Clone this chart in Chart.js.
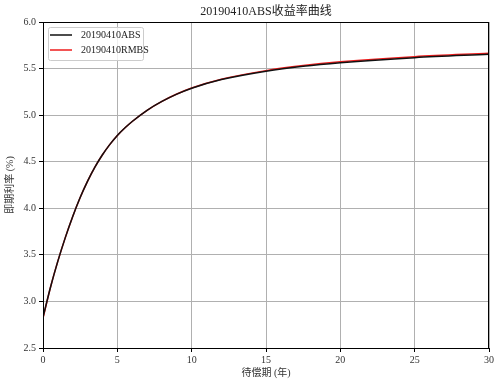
<!DOCTYPE html>
<html>
<head>
<meta charset="utf-8">
<script src="https://cdn.jsdelivr.net/npm/chart.js@4/dist/chart.umd.min.js"></script>
<style>
    body { margin: 0; background: #fff; }
    canvas { display: block; }
</style>
</head>
<body>
<canvas id="curveChart" width="501" height="386"></canvas>
<script>
// maturities (years) and spot rates (%)
const maturities = [0, 0.5, 1, 1.5, 2, 2.5, 3, 3.5, 4, 4.5, 5, 5.5, 6, 7, 8, 9, 10, 12, 15, 17.5, 20, 25, 30];
const absRates  = [2.83, 3.15, 3.433, 3.685, 3.912, 4.115, 4.292, 4.445, 4.575, 4.686, 4.782, 4.862, 4.932, 5.052, 5.147, 5.225, 5.289, 5.382, 5.472, 5.525, 5.563, 5.617, 5.654];
const rmbsRates = [2.82, 3.15, 3.433, 3.685, 3.912, 4.115, 4.292, 4.445, 4.575, 4.686, 4.782, 4.862, 4.932, 5.052, 5.148, 5.227, 5.292, 5.386, 5.478, 5.532, 5.572, 5.628, 5.665];
const seriesNames = ['20190410ABS', '20190410RMBS'];
const xTicks = [0, 5, 10, 15, 20, 25, 30];
const yTicks = [2.5, 3.0, 3.5, 4.0, 4.5, 5.0, 5.5, 6.0];

const titleText = '20190410ABS收益率曲线';
const xTitle = '待偿期 (年)';
const yTitle = '即期利率 (%)';
const fontFamily = '"Liberation Serif", "Noto Sans CJK SC", serif';

function toPoints(values) {
    return maturities.map((m, i) => ({ x: m, y: values[i] }));
}

// frame, title, axis titles and in-plot legend, drawn the matplotlib way
const decorPlugin = {
    id: 'decor',
    afterDraw(chart) {
        const ctx = chart.ctx;
        const area = chart.chartArea;
        ctx.save();

        ctx.strokeStyle = '#000';
        ctx.lineWidth = 1;
        ctx.strokeRect(Math.round(area.left) + 0.5, Math.round(area.top) + 0.5,
            Math.round(area.right - area.left) - 1, Math.round(area.bottom - area.top));

        ctx.fillStyle = '#222';
        ctx.textAlign = 'center';
        ctx.textBaseline = 'middle';
        ctx.font = '12px ' + fontFamily;
        ctx.fillText(titleText, (area.left + area.right) / 2, 12);

        ctx.font = '10px ' + fontFamily;
        ctx.fillStyle = '#333';
        ctx.fillText(xTitle, (area.left + area.right) / 2, 373);
        ctx.save();
        ctx.translate(10, (area.top + area.bottom) / 2);
        ctx.rotate(-Math.PI / 2);
        ctx.fillText(yTitle, 0, 0);
        ctx.restore();

        // legend box
        const lx = area.left + 5, ly = area.top + 5, lw = 95, lh = 33;
        ctx.fillStyle = 'rgba(255,255,255,0.8)';
        ctx.strokeStyle = '#cccccc';
        ctx.beginPath();
        ctx.roundRect(lx + 0.5, ly + 0.5, lw, lh, 2);
        ctx.fill();
        ctx.stroke();

        chart.data.datasets.forEach((ds, i) => {
            const y = ly + 8 + i * 15;
            ctx.strokeStyle = ds.borderColor;
            ctx.lineWidth = 1.5;
            ctx.beginPath();
            ctx.moveTo(lx + 2, y);
            ctx.lineTo(lx + 24, y);
            ctx.stroke();
            ctx.fillStyle = '#222';
            ctx.textAlign = 'left';
            ctx.font = '10px ' + fontFamily;
            ctx.fillText(ds.label, lx + 33, y);
        });
        ctx.restore();
    }
};

const ctx = document.getElementById('curveChart').getContext('2d');
new Chart(ctx, {
    type: 'line',
    data: {
        datasets: [
            {
                label: seriesNames[0],
                data: toPoints(absRates),
                borderColor: '#111111',
                borderWidth: 1.5,
                pointRadius: 0,
                cubicInterpolationMode: 'monotone',
                fill: false
            },
            {
                label: seriesNames[1],
                data: toPoints(rmbsRates),
                borderColor: '#ee1c1c',
                borderWidth: 1.5,
                pointRadius: 0,
                cubicInterpolationMode: 'monotone',
                fill: false
            }
        ]
    },
    options: {
        responsive: false,
        animation: false,
        layout: { padding: { top: 22, right: 12, left: 0, bottom: 0 } },
        plugins: {
            legend: { display: false },
            title: { display: false },
            tooltip: { enabled: false }
        },
        scales: {
            x: {
                type: 'linear',
                min: 0,
                max: 30,
                afterFit: scale => { scale.height = 38; },
                afterBuildTicks: scale => { scale.ticks = xTicks.map(v => ({ value: v })); },
                grid: { color: '#b0b0b0', tickColor: '#000', tickLength: 4, lineWidth: 1 },
                border: { color: '#000', width: 1 },
                ticks: {
                    color: '#333',
                    padding: 2,
                    maxRotation: 0,
                    font: { family: fontFamily, size: 10 },
                    callback: v => String(v)
                }
            },
            y: {
                min: 2.5,
                max: 6.0,
                afterFit: scale => { scale.width = 43; },
                afterBuildTicks: scale => { scale.ticks = yTicks.map(v => ({ value: v })); },
                grid: { color: '#b0b0b0', tickColor: '#000', tickLength: 4, lineWidth: 1 },
                border: { color: '#000', width: 1 },
                ticks: {
                    color: '#333',
                    padding: 3,
                    font: { family: fontFamily, size: 10 },
                    callback: v => Number(v).toFixed(1)
                }
            }
        }
    },
    plugins: [decorPlugin]
});
</script>
</body>
</html>
